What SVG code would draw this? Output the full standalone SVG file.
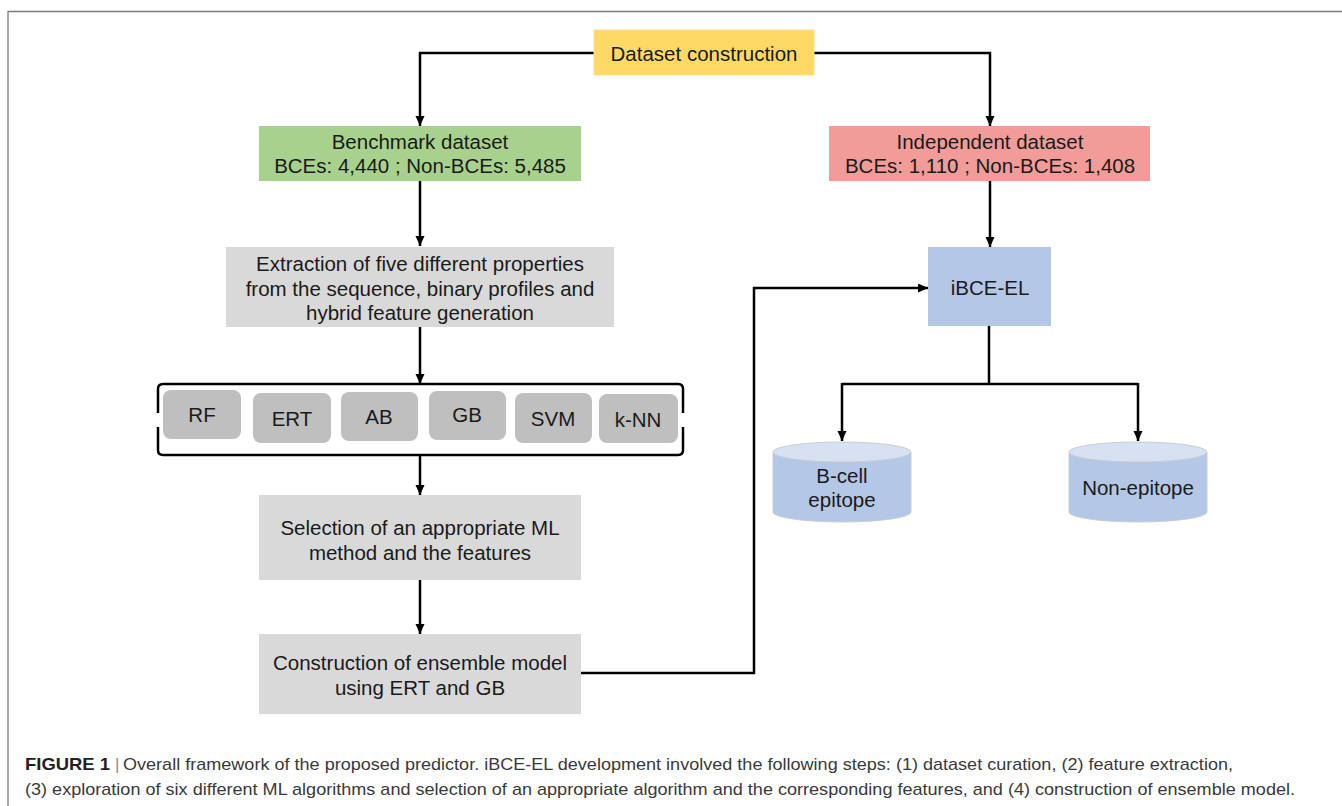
<svg xmlns="http://www.w3.org/2000/svg" width="1342" height="806" viewBox="0 0 1342 806">
<style>
  .t { font-family: "Liberation Sans", Arial, sans-serif; font-size: 20.5px; fill: #1a1a1a; text-anchor: middle; }
  .c { font-family: "Liberation Sans", Arial, sans-serif; font-size: 17px; fill: #3a3a3a; }
  .b { font-weight: bold; fill: #222; }
  .conn { fill: none; stroke: #000; stroke-width: 2.5; }
  .gray { fill: #d9d9d9; }
  .clf { fill: #bfbfbf; }
  .cylbody { fill: #b4c7e7; stroke: #c9cdd4; stroke-width: 1; }
  .cyltop { fill: #d7e1f2; stroke: #c9cdd4; stroke-width: 1; }
</style>
<defs>
  <marker id="arr" markerUnits="userSpaceOnUse" markerWidth="10" markerHeight="10" refX="10" refY="4.5" orient="auto">
    <path d="M0,0 L10,4.5 L0,9 z" fill="#000"/>
  </marker>
</defs>
<rect x="0" y="0" width="1342" height="806" fill="#fff"/>
<g id="frame">
  <path d="M8,806 V11.5 H1342" fill="none" stroke="#7a7a7a" stroke-width="1.3"/>
</g>

<g id="connectors">
  <path class="conn" d="M594,53 H420 V126" marker-end="url(#arr)"/>
  <path class="conn" d="M814,53 H990 V126" marker-end="url(#arr)"/>
  <path class="conn" d="M420,181 V246" marker-end="url(#arr)"/>
  <path class="conn" d="M990,181 V247" marker-end="url(#arr)"/>
  <path class="conn" d="M420,327 V384" marker-end="url(#arr)"/>
  <path class="conn" d="M420,455 V495" marker-end="url(#arr)"/>
  <path class="conn" d="M420,580 V634" marker-end="url(#arr)"/>
  <path class="conn" d="M581,673 H754 V288 H928" marker-end="url(#arr)"/>
  <path class="conn" d="M989,326 V384"/>
  <path class="conn" d="M842,384 H1138"/>
  <path class="conn" d="M842,383 V441" marker-end="url(#arr)"/>
  <path class="conn" d="M1138,383 V441" marker-end="url(#arr)"/>
</g>

<g id="dataset-construction">
  <rect x="594" y="30" width="220" height="45" fill="#ffd966" stroke="#ffe08a" stroke-width="1"/>
  <text class="t" x="704" y="61">Dataset construction</text>
</g>

<g id="benchmark-dataset">
  <rect x="259" y="126" width="322" height="55" fill="#a9d18e"/>
  <text class="t" x="420" y="149">Benchmark dataset</text>
  <text class="t" x="420" y="173">BCEs: 4,440 ; Non-BCEs: 5,485</text>
</g>

<g id="independent-dataset">
  <rect x="829" y="126" width="321" height="55" fill="#f29c99"/>
  <text class="t" x="990" y="149">Independent dataset</text>
  <text class="t" x="990" y="173">BCEs: 1,110 ; Non-BCEs: 1,408</text>
</g>

<g id="feature-extraction">
  <rect class="gray" x="226" y="247" width="388" height="80"/>
  <text class="t" x="420" y="271">Extraction of five different properties</text>
  <text class="t" x="420" y="296">from the sequence, binary profiles and</text>
  <text class="t" x="420" y="320">hybrid feature generation</text>
</g>

<g id="ml-algorithms">
  <path class="conn" d="M158,413 V389 Q158,384 163,384 H678 Q683,384 683,389 V413"/>
  <path class="conn" d="M158,427 V450 Q158,455 163,455 H678 Q683,455 683,450 V427"/>
  <g id="rf"><rect class="clf" x="163" y="390" width="78" height="49" rx="8"/><text class="t" x="202" y="422">RF</text></g>
  <g id="ert"><rect class="clf" x="253" y="393" width="78" height="50" rx="8"/><text class="t" x="292" y="426">ERT</text></g>
  <g id="ab"><rect class="clf" x="341" y="392" width="77" height="49" rx="8"/><text class="t" x="379" y="424">AB</text></g>
  <g id="gb"><rect class="clf" x="429" y="391" width="77" height="49" rx="8"/><text class="t" x="467" y="422">GB</text></g>
  <g id="svm"><rect class="clf" x="515" y="393" width="77" height="50" rx="8"/><text class="t" x="553" y="426">SVM</text></g>
  <g id="knn"><rect class="clf" x="599" y="394" width="79" height="49" rx="8"/><text class="t" x="638" y="427">k-NN</text></g>
</g>

<g id="selection">
  <rect class="gray" x="259" y="495" width="322" height="85"/>
  <text class="t" x="420" y="535">Selection of an appropriate ML</text>
  <text class="t" x="420" y="560">method and the features</text>
</g>

<g id="ensemble-construction">
  <rect class="gray" x="259" y="634" width="322" height="80"/>
  <text class="t" x="420" y="670">Construction of ensemble model</text>
  <text class="t" x="420" y="695">using ERT and GB</text>
</g>

<g id="ibce-el">
  <rect x="928" y="247" width="123" height="79" fill="#b4c7e7"/>
  <text class="t" x="990" y="295">iBCE-EL</text>
</g>

<g id="b-cell-epitope">
  <path class="cylbody" d="M773,452 V512 A69,10 0 0 0 911,512 V452"/>
  <ellipse class="cyltop" cx="842" cy="452" rx="69" ry="10"/>
  <text class="t" x="842" y="483">B-cell</text>
  <text class="t" x="842" y="507">epitope</text>
</g>

<g id="non-epitope">
  <path class="cylbody" d="M1069,452 V512 A69,10 0 0 0 1207,512 V452"/>
  <ellipse class="cyltop" cx="1138" cy="452" rx="69" ry="10"/>
  <text class="t" x="1138" y="495">Non-epitope</text>
</g>

<g id="caption">
  <text class="c b" x="25" y="770" textLength="85" lengthAdjust="spacingAndGlyphs">FIGURE 1</text>
  <text class="c" x="115" y="770" fill="#888" style="fill:#8a8a8a">|</text>
  <text class="c" x="123" y="770" textLength="1110" lengthAdjust="spacingAndGlyphs">Overall framework of the proposed predictor. iBCE-EL development involved the following steps: (1) dataset curation, (2) feature extraction,</text>
  <text class="c" x="25" y="795" textLength="1270" lengthAdjust="spacingAndGlyphs">(3) exploration of six different ML algorithms and selection of an appropriate algorithm and the corresponding features, and (4) construction of ensemble model.</text>
</g>
</svg>
